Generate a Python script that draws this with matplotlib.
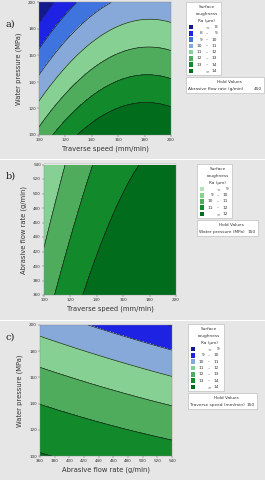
import numpy as np
import matplotlib
matplotlib.use("Agg")
import matplotlib.pyplot as plt
from matplotlib.patches import Rectangle

# ---------------- data (contour crossing points) -------------
# Panel a: Traverse speed (mm/min), Water pressure (MPa), Ra (um); hold flow rate 450
a_speed = [100, 111.4, 100, 129.7, 100, 157.6, 100, 184, 200,
           100.5, 181.7, 200, 105.6, 189, 200, 125.4, 184, 200]
a_press = [186.4, 200, 166.8, 200, 145.3, 200, 120.9, 188.2, 186.4,
           101.8, 165.5, 164.2, 100, 144.6, 142.8, 100, 122.7, 120.9]
a_ra = [8, 8, 9, 9, 10, 10, 11, 11, 11,
        12, 12, 12, 13, 13, 13, 14, 14, 14]

# Panel b: Traverse speed (mm/min), Abrasive flow rate (g/min), Ra; hold pressure 150
b_speed = [116.2, 100, 107.6, 136.5, 108.1, 122.3, 172.3, 129.7, 147.5, 136.0, 160.0]
b_flow = [540, 427.7, 480, 540, 360, 450, 540, 360, 450, 400, 500]
b_ra = [10, 10, 10, 11, 11, 11, 12, 12, 12, 12, 12]

# Panel c: Abrasive flow rate (g/min), Water pressure (MPa), Ra; hold speed 150
c_flow = [534, 540, 428.4, 540, 360, 450, 540, 360, 450, 540, 360, 450, 540]
c_press = [200, 198.8, 200, 180.4, 191.1, 175.9, 160.6, 166.9, 152.5, 138.2, 138.9, 125.3, 111.7]
c_ra = [9, 9, 10, 10, 11, 11, 11, 12, 12, 12, 13, 13, 13]

a_levels = [8, 9, 10, 11, 12, 13, 14]
b_levels = [9, 10, 11, 12]
c_levels = [9, 10, 11, 12, 13, 14]

a_xticks = [100, 120, 140, 160, 180, 200]
a_yticks = [100, 120, 140, 160, 180, 200]
b_xticks = [100, 120, 140, 160, 180, 200]
b_yticks = [360, 380, 400, 420, 440, 460, 480, 500, 520, 540]
c_xticks = [360, 380, 400, 420, 440, 460, 480, 500, 520, 540]
c_yticks = [100, 120, 140, 160, 180, 200]

hold_a = ("Abrasive flow rate (g/min)", "450")
hold_b = ("Water pressure (MPa)", "150")
hold_c = ("Traverse speed (mm/min)", "150")

# ---------------- colours ----------------
NAVY = "#141a8e"
BLUE = "#1e22e2"
MBLUE = "#3f74de"
LBLUE = "#86a9da"
PGREEN = "#b6e0bc"
LGREEN = "#86d093"
GREEN = "#4fac5c"
DGREEN = "#12892b"
DDGREEN = "#006c1c"

a_colors = [NAVY, BLUE, MBLUE, LBLUE, LGREEN, GREEN, DGREEN, DDGREEN]
b_colors = [PGREEN, LGREEN, GREEN, DGREEN, DDGREEN]
c_colors = [NAVY, BLUE, LBLUE, LGREEN, GREEN, DGREEN, DDGREEN]

W, H = 265, 480
BG = "#e6e6e6"
TXT = "#333333"


def fx(x):
    return x / W


def fy(y):
    return 1 - y / H


def fit_surface(x, y, z, xr, yr, terms):
    x = np.asarray(x, float); y = np.asarray(y, float); z = np.asarray(z, float)
    xm, xs = (xr[0] + xr[1]) / 2, (xr[1] - xr[0]) / 2
    ym, ys = (yr[0] + yr[1]) / 2, (yr[1] - yr[0]) / 2

    def design(u, v):
        cols = {"1": np.ones_like(u), "u": u, "v": v, "uu": u * u, "vv": v * v, "uv": u * v}
        return np.stack([cols[t] for t in terms], axis=-1)

    u, v = (x - xm) / xs, (y - ym) / ys
    coef, *_ = np.linalg.lstsq(design(u, v), z, rcond=None)
    gx = np.linspace(xr[0], xr[1], 300)
    gy = np.linspace(yr[0], yr[1], 300)
    X, Y = np.meshgrid(gx, gy)
    Z = design((X - xm) / xs, (Y - ym) / ys) @ coef
    return X, Y, Z


fig = plt.figure(figsize=(W / 100, H / 100), dpi=100, facecolor="white")

# panel backgrounds
for (y0, y1) in [(0, 158.5), (160, 319.5), (321, 480)]:
    fig.patches.append(Rectangle((0, fy(y1)), 1, (y1 - y0) / H, transform=fig.transFigure,
                                 facecolor=BG, edgecolor="none", zorder=-10))


def draw_legend(x0, y0, x1, y1, levels, colors):
    fig.patches.append(Rectangle((fx(x0), fy(y1)), (x1 - x0) / W, (y1 - y0) / H,
                                 transform=fig.transFigure, facecolor="white",
                                 edgecolor="#c8c8c8", linewidth=0.6, zorder=1))
    xc = (x0 + x1) / 2
    for i, t in enumerate(["Surface", "roughness", "Ra (\u03bcm)"]):
        fig.text(fx(xc + 3), fy(y0 + 5.5 + i * 6.6), t, fontsize=3.1, color=TXT,
                 ha="center", va="center")
    n = len(colors)
    row0 = y0 + 25
    step = (y1 - 4 - row0) / (n - 1)
    for k in range(n):
        yy = row0 + k * step
        fig.patches.append(Rectangle((fx(x0 + 2.5), fy(yy + 2.3)), 4.6 / W, 4.6 / H,
                                     transform=fig.transFigure, facecolor=colors[k],
                                     edgecolor="none", zorder=2))
        if k == 0:
            fig.text(fx(x0 + 21), fy(yy), "<", fontsize=3.1, color=TXT, ha="center", va="center")
            fig.text(fx(x0 + 31), fy(yy), str(levels[0]), fontsize=3.1, color=TXT, ha="right", va="center")
        elif k == n - 1:
            fig.text(fx(x0 + 21), fy(yy), ">", fontsize=3.1, color=TXT, ha="center", va="center")
            fig.text(fx(x0 + 31), fy(yy), str(levels[-1]), fontsize=3.1, color=TXT, ha="right", va="center")
        else:
            fig.text(fx(x0 + 16), fy(yy), str(levels[k - 1]), fontsize=3.1, color=TXT, ha="right", va="center")
            fig.text(fx(x0 + 21), fy(yy), "\u2013", fontsize=3.1, color=TXT, ha="center", va="center")
            fig.text(fx(x0 + 31), fy(yy), str(levels[k]), fontsize=3.1, color=TXT, ha="right", va="center")


def draw_hold(x0, y0, x1, y1, name, val):
    fig.patches.append(Rectangle((fx(x0), fy(y1)), (x1 - x0) / W, (y1 - y0) / H,
                                 transform=fig.transFigure, facecolor="white",
                                 edgecolor="#c8c8c8", linewidth=0.6, zorder=1))
    fig.text(fx((x0 + x1) / 2 + 4), fy(y0 + 5), "Hold Values", fontsize=3.1, color=TXT,
             ha="center", va="center")
    fig.text(fx(x0 + 2), fy(y0 + 12), name, fontsize=3.1, color=TXT, ha="left", va="center")
    fig.text(fx(x1 - 2), fy(y0 + 12), val, fontsize=3.1, color=TXT, ha="right", va="center")


def panel(box, X, Y, Z, levels, colors, xticks, yticks, xlabel, ylabel, letter, letter_xy):
    x0, y0, x1, y1 = box
    ax = fig.add_axes([fx(x0), fy(y1), (x1 - x0) / W, (y1 - y0) / H])
    bounds = [-1000] + list(levels) + [1000]
    ax.contourf(X, Y, Z, levels=bounds, colors=colors)
    ax.contour(X, Y, Z, levels=levels, colors="#1a1a1a", linewidths=0.45)
    ax.set_xlim(xticks[0], xticks[-1])
    ax.set_ylim(yticks[0], yticks[-1])
    ax.set_xticks(xticks)
    ax.set_yticks(yticks)
    ax.tick_params(labelsize=3.0, length=1.2, width=0.3, pad=1.0, colors="#555555",
                   labelcolor=TXT)
    for s in ax.spines.values():
        s.set_linewidth(0.3)
        s.set_color("#888888")
    ax.set_xlabel(xlabel, fontsize=4.9, color=TXT, labelpad=2.5)
    ax.set_ylabel(ylabel, fontsize=4.9, color=TXT, labelpad=4.5)
    fig.text(fx(letter_xy[0]), fy(letter_xy[1]), letter, fontsize=7, family="DejaVu Serif",
             color="#222222", ha="left", va="center")
    return ax


# Panel a
Xa, Ya, Za = fit_surface(a_speed, a_press, a_ra, (100, 200), (100, 200),
                         ["1", "u", "v", "uu", "uv"])
panel((39, 2.5, 171, 135), Xa, Ya, Za, a_levels, a_colors, a_xticks, a_yticks,
      "Traverse speed (mm/min)", "Water pressure (MPa)", "a)", (6, 24.5))
draw_legend(186, 2, 221, 75, a_levels, a_colors)
draw_hold(186, 77, 264, 93, *hold_a)

# Panel b
Xb, Yb, Zb = fit_surface(b_speed, b_flow, b_ra, (100, 200), (360, 540),
                         ["1", "u", "v", "uu", "vv", "uv"])
panel((44, 164.5, 176, 295), Xb, Yb, Zb, b_levels, b_colors, b_xticks, b_yticks,
      "Traverse speed (mm/min)", "Abrasive flow rate (g/min)", "b)", (6, 176))
draw_legend(197, 164, 232, 218, b_levels, b_colors)
draw_hold(197, 220, 258, 236, *hold_b)

# Panel c
Xc, Yc, Zc = fit_surface(c_flow, c_press, c_ra, (360, 540), (100, 200),
                         ["1", "u", "v", "vv", "uv"])
panel((40, 325, 172, 456), Xc, Yc, Zc, c_levels, c_colors, c_xticks, c_yticks,
      "Abrasive flow rate (g/min)", "Water pressure (MPa)", "c)", (6, 337))
draw_legend(188, 324, 224, 391, c_levels, c_colors)
draw_hold(188, 393, 257, 409, *hold_c)

fig.savefig("out.png", dpi=100, facecolor="white")
